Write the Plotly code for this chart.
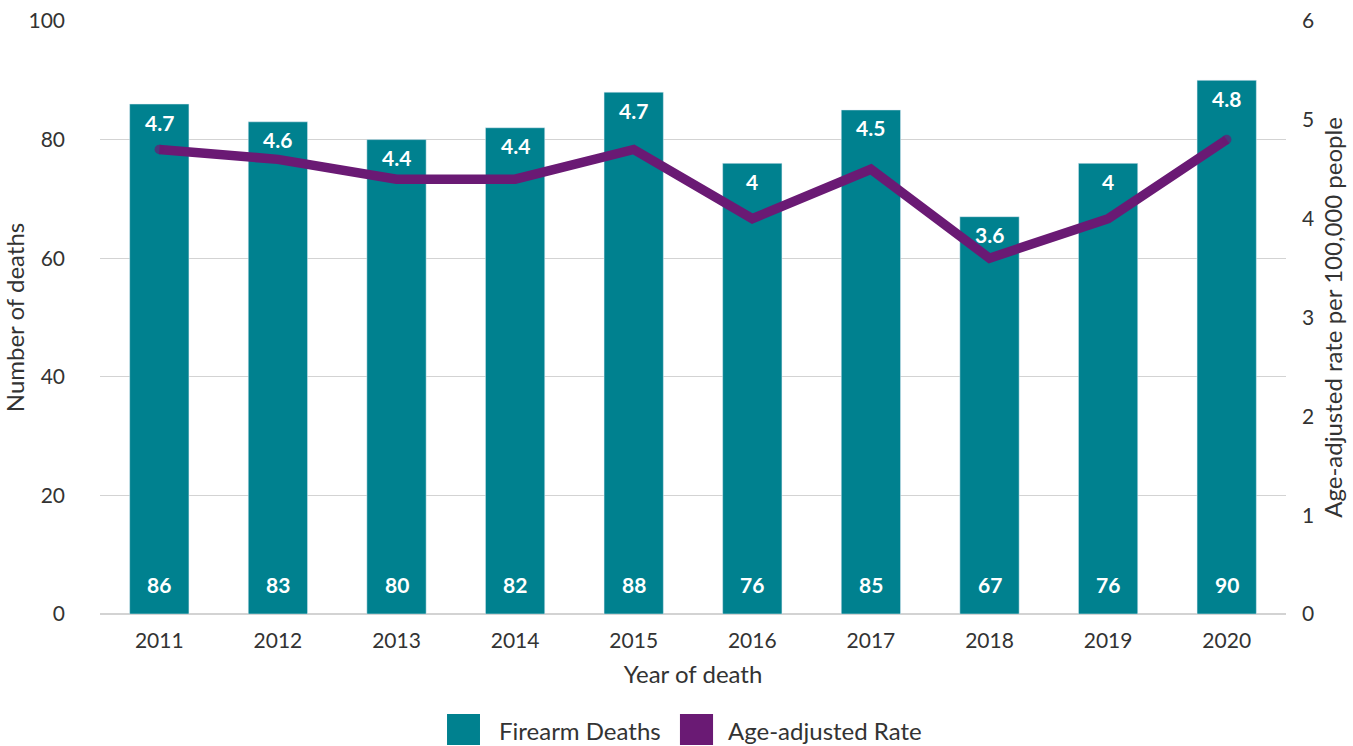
import plotly.graph_objects as go

years = ["2011", "2012", "2013", "2014", "2015", "2016", "2017", "2018", "2019", "2020"]
deaths = [86, 83, 80, 82, 88, 76, 85, 67, 76, 90]
rates = [4.7, 4.6, 4.4, 4.4, 4.7, 4.0, 4.5, 3.6, 4.0, 4.8]
rate_labels = ["4.7", "4.6", "4.4", "4.4", "4.7", "4", "4.5", "3.6", "4", "4.8"]

BAR_COLOR = "#00818F"
LINE_COLOR = "#6A1A74"
FONT = "Lato, Open Sans, sans-serif"
TXT = "#333333"
LW = 9.5

fig = go.Figure()
fig.add_trace(go.Bar(x=years, y=deaths, name="Firearm Deaths", marker_color=BAR_COLOR,
                     width=0.5, showlegend=False, yaxis="y"))
end_sizes = [LW if i in (0, len(years) - 1) else 0 for i in range(len(years))]
fig.add_trace(go.Scatter(x=years, y=rates, name="Age-adjusted Rate", mode="lines+markers",
                         line=dict(color=LINE_COLOR, width=LW),
                         marker=dict(color=LINE_COLOR, size=end_sizes, line=dict(width=0)),
                         showlegend=False, yaxis="y2"))

annotations = []
for i, (d, lab) in enumerate(zip(deaths, rate_labels)):
    annotations.append(dict(x=i, y=d, xref="x", yref="y", text=f"<b>{lab}</b>", showarrow=False,
                            yshift=-18, font=dict(family=FONT, size=21, color="white")))
    annotations.append(dict(x=i, y=0, xref="x", yref="y", text=f"<b>{d}</b>", showarrow=False,
                            yshift=30, font=dict(family=FONT, size=21, color="white")))

# manual legend
annotations.append(dict(x=0.3347, y=-0.197, xref="paper", yref="paper", text="Firearm Deaths",
                        showarrow=False, xanchor="left", yanchor="middle",
                        font=dict(family=FONT, size=24, color=TXT)))
annotations.append(dict(x=0.5278, y=-0.197, xref="paper", yref="paper", text="Age-adjusted Rate",
                        showarrow=False, xanchor="left", yanchor="middle",
                        font=dict(family=FONT, size=24, color=TXT)))
shapes = [
    dict(type="rect", xref="paper", yref="paper", x0=0.2926, x1=0.3204, y0=-0.2209, y1=-0.1686,
         fillcolor=BAR_COLOR, line=dict(width=0)),
    dict(type="rect", xref="paper", yref="paper", x0=0.4890, x1=0.5169, y0=-0.2209, y1=-0.1686,
         fillcolor=LINE_COLOR, line=dict(width=0)),
]

fig.update_layout(
    width=1353, height=746,
    margin=dict(l=100, r=67, t=21, b=132),
    paper_bgcolor="white", plot_bgcolor="white",
    font=dict(family=FONT, size=21, color=TXT),
    barmode="overlay",
    showlegend=False,
    annotations=annotations,
    shapes=shapes,
    xaxis=dict(type="category", range=[-0.5, len(years) - 0.5],
               title=dict(text="Year of death", font=dict(size=24)),
               showgrid=False, showline=False, ticks="", tickfont=dict(size=21),
               ticklabelstandoff=12, automargin=False),
    yaxis=dict(title=dict(text="Number of deaths", font=dict(size=24), standoff=6),
               range=[0, 100], dtick=20, showgrid=True, gridcolor="#d3d3d3", gridwidth=1,
               zeroline=True, zerolinecolor="#d3d3d3", zerolinewidth=2,
               ticklabelstandoff=34, tickfont=dict(size=21), automargin=False),
    yaxis2=dict(title=dict(text="Age-adjusted rate per 100,000 people", font=dict(size=24), standoff=12),
                range=[0, 6], dtick=1, overlaying="y", side="right", showgrid=False,
                zeroline=False, ticklabelstandoff=15, tickfont=dict(size=21), automargin=False),
)

fig.write_html("out.html", config={"displayModeBar": False})
with open("out.html", "r", encoding="utf-8") as f:
    html = f.read()
html = html.replace("<head>", "<head><style>html,body{margin:0;padding:0;overflow:hidden;}</style>", 1)
with open("out.html", "w", encoding="utf-8") as f:
    f.write(html)
